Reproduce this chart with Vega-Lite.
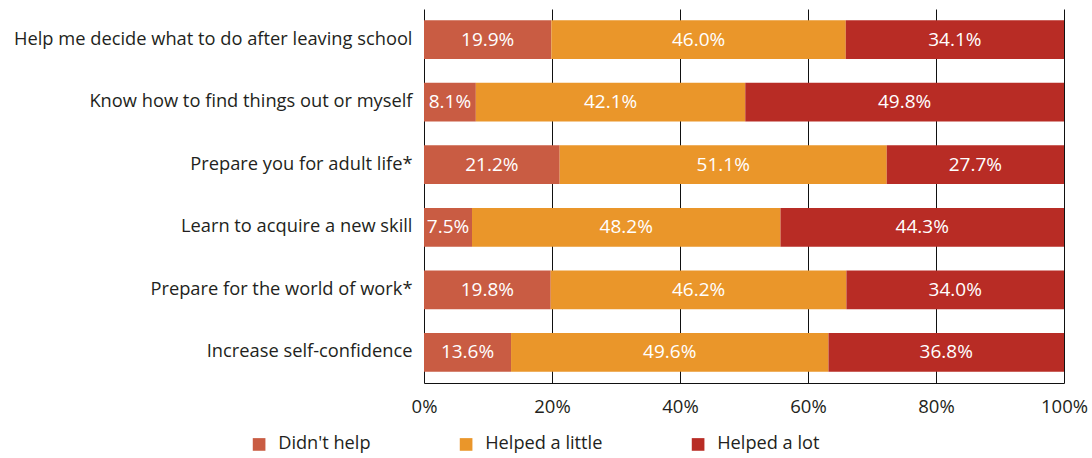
{
  "$schema": "https://vega.github.io/schema/vega-lite/v6.json",
  "autosize": {"type": "none"},
  "padding": {"left": 424, "top": 9, "right": 28, "bottom": 75},
  "width": 640,
  "height": 374,
  "background": "white",
  "config": {
    "view": {"stroke": null},
    "font": "Open Sans",
    "axis": {"labelFont": "Open Sans", "labelColor": "#231f20"}
  },
  "data": {
    "values": [
      {"item": "Help me decide what to do after leaving school", "response": "Didn't help", "value": 19.9},
      {"item": "Help me decide what to do after leaving school", "response": "Helped a little", "value": 46.0},
      {"item": "Help me decide what to do after leaving school", "response": "Helped a lot", "value": 34.1},
      {"item": "Know how to find things out or myself", "response": "Didn't help", "value": 8.1},
      {"item": "Know how to find things out or myself", "response": "Helped a little", "value": 42.1},
      {"item": "Know how to find things out or myself", "response": "Helped a lot", "value": 49.8},
      {"item": "Prepare you for adult life*", "response": "Didn't help", "value": 21.2},
      {"item": "Prepare you for adult life*", "response": "Helped a little", "value": 51.1},
      {"item": "Prepare you for adult life*", "response": "Helped a lot", "value": 27.7},
      {"item": "Learn to acquire a new skill", "response": "Didn't help", "value": 7.5},
      {"item": "Learn to acquire a new skill", "response": "Helped a little", "value": 48.2},
      {"item": "Learn to acquire a new skill", "response": "Helped a lot", "value": 44.3},
      {"item": "Prepare for the world of work*", "response": "Didn't help", "value": 19.8},
      {"item": "Prepare for the world of work*", "response": "Helped a little", "value": 46.2},
      {"item": "Prepare for the world of work*", "response": "Helped a lot", "value": 34.0},
      {"item": "Increase self-confidence", "response": "Didn't help", "value": 13.6},
      {"item": "Increase self-confidence", "response": "Helped a little", "value": 49.6},
      {"item": "Increase self-confidence", "response": "Helped a lot", "value": 36.8}
    ]
  },
  "encoding": {
    "y": {
      "field": "item",
      "type": "nominal",
      "sort": [
        "Help me decide what to do after leaving school",
        "Know how to find things out or myself",
        "Prepare you for adult life*",
        "Learn to acquire a new skill",
        "Prepare for the world of work*",
        "Increase self-confidence"
      ],
      "scale": {"paddingInner": 0.38, "paddingOuter": 0.18},
      "axis": {"title": null, "ticks": false, "domain": false, "labelPadding": 12, "labelLimit": 500, "labelFontSize": 18.3}
    },
    "order": {"field": "response", "type": "nominal", "sort": "ascending"}
  },
  "layer": [
    {
      "mark": {"type": "bar"},
      "encoding": {
        "x": {
          "field": "value",
          "type": "quantitative",
          "stack": "zero",
          "scale": {"domain": [0, 100], "nice": false},
          "axis": {
            "title": null,
            "values": [0, 20, 40, 60, 80, 100],
            "labelExpr": "datum.value + '%'",
            "labelFlush": false,
            "grid": true,
            "gridColor": "#111111",
            "gridWidth": 1,
            "gridOpacity": 1,
            "domain": true,
            "domainColor": "#111111",
            "ticks": false,
            "labelPadding": 14,
            "labelFontSize": 18.5
          }
        },
        "color": {
          "field": "response",
          "type": "nominal",
          "scale": {
            "domain": ["Didn't help", "Helped a little", "Helped a lot"],
            "range": ["#C95C43", "#EA962A", "#B82C25"]
          },
          "legend": {
            "title": null,
            "orient": "none",
            "direction": "horizontal",
            "legendX": -174,
            "legendY": 426,
            "symbolType": "square",
            "symbolSize": 160,
            "symbolStrokeWidth": 0,
            "symbolOpacity": 1,
            "labelFont": "Open Sans",
            "labelFontSize": 18.2,
            "labelColor": "#231f20",
            "labelOffset": 10,
            "columnPadding": 86,
            "padding": 0
          }
        }
      }
    },
    {
      "mark": {
        "type": "text",
        "color": "white",
        "fontSize": 19,
        "font": "Open Sans",
        "fontWeight": 500,
        "letterSpacing": 0.3,
        "text": {"expr": "format(datum.value, '.1f') + '%'"}
      },
      "encoding": {
        "x": {"field": "value", "type": "quantitative", "stack": "zero", "bandPosition": 0.5},
        "detail": {"field": "response", "type": "nominal"}
      }
    }
  ]
}
